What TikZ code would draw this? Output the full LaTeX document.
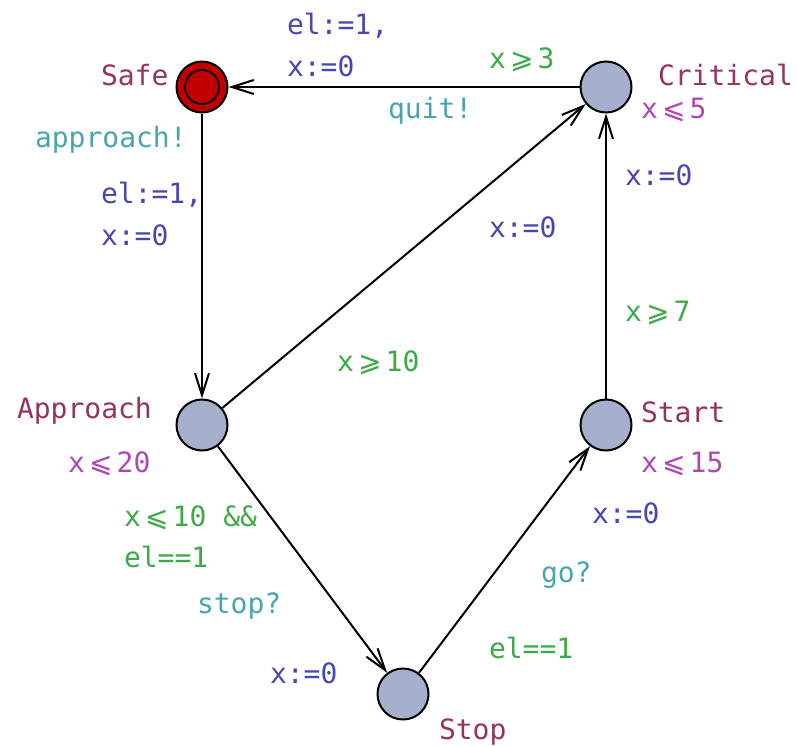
\documentclass[tikz,border=0pt]{standalone}
\usepackage{fontspec}
\setmonofont{DejaVu Sans Mono}
\newfontfamily\symfont{DejaVu Sans}
\usetikzlibrary{arrows.meta}
\definecolor{namecol}{RGB}{150,50,95}
\definecolor{invcol}{RGB}{175,70,180}
\definecolor{guardcol}{RGB}{60,170,70}
\definecolor{synccol}{RGB}{70,165,175}
\definecolor{updcol}{RGB}{70,70,180}
\definecolor{locfill}{RGB}{166,175,204}
\definecolor{safered}{RGB}{192,0,0}
\newcommand{\geqsym}{\kern0.15em{\symfont ⩾}\kern0.15em}
\newcommand{\leqsym}{\kern0.15em{\symfont ⩽}\kern0.15em}
\begin{document}
\begin{tikzpicture}[x=1pt,y=-1pt,
  every node/.style={font=\ttfamily\fontsize{28}{34}\selectfont},
  loc/.style={circle,draw=black,line width=2pt,fill=locfill,minimum size=51pt,inner sep=0pt},
  txt/.style={anchor=base west,inner sep=0pt,outer sep=0pt},
  lname/.style={txt,text=namecol},
  linv/.style={txt,text=invcol},
  lguard/.style={txt,text=guardcol},
  lsync/.style={txt,text=synccol},
  lupd/.style={txt,text=updcol},
  edge/.style={draw=black,line width=2pt,-{Straight Barb[length=22pt,width=14pt,line width=2pt]}}
]
\useasboundingbox (0,0) rectangle (797,745);
% locations
\node[loc,fill=safered] (safe) at (202,87) {};
\node[circle,draw=black,line width=1.8pt,minimum size=34pt,inner sep=0pt] (safein) at (safe.center) {};
\node[loc] (crit) at (606,87) {};
\node[loc] (appr) at (202,425) {};
\node[loc] (start) at (606,425) {};
\node[loc] (stop) at (403,694) {};
% edges
\draw[edge] (crit) -- (safe);
\draw[edge] (safe) -- (appr);
\draw[edge] (appr) -- (crit);
\draw[edge] (appr) -- (stop);
\draw[edge] (stop) -- (start);
\draw[edge] (start) -- (crit);
% names
\node[lname] (nsafe) at (101,85) {Safe};
\node[lname] (ncrit) at (658,85) {Critical};
\node[lname] (nappr) at (17,418) {Approach};
\node[lname] (nstart) at (641,422) {Start};
\node[lname] (nstop) at (439,739) {Stop};
% invariants
\node[linv] (icrit) at (641,118) {x\leqsym5};
\node[linv] (iappr) at (68,472) {x\leqsym20};
\node[linv] (istart) at (641,472) {x\leqsym15};
% Critical -> Safe
\node[lupd] (u1a) at (287,34) {el:=1,};
\node[lupd] (u1b) at (287,76) {x:=0};
\node[lguard] (g1) at (489,68) {x\geqsym3};
\node[lsync] (s1) at (388,118) {quit!};
% Safe -> Approach
\node[lsync] (s2) at (35,147) {approach!};
\node[lupd] (u2a) at (101,203) {el:=1,};
\node[lupd] (u2b) at (101,245) {x:=0};
% Approach -> Critical
\node[lupd] (u3) at (489,237) {x:=0};
\node[lguard] (g3) at (337,371) {x\geqsym10};
% Start -> Critical
\node[lupd] (u4) at (625,185) {x:=0};
\node[lguard] (g4) at (625,321) {x\geqsym7};
% Approach -> Stop
\node[lguard] (g5a) at (124,526) {x\leqsym10 \&\&};
\node[lguard] (g5b) at (124,567) {el==1};
\node[lsync] (s5) at (197,613) {stop?};
\node[lupd] (u5) at (270,683) {x:=0};
% Stop -> Start
\node[lupd] (u6) at (592,523) {x:=0};
\node[lsync] (s6) at (541,582) {go?};
\node[lguard] (g6) at (489,658) {el==1};
\end{tikzpicture}
\end{document}
